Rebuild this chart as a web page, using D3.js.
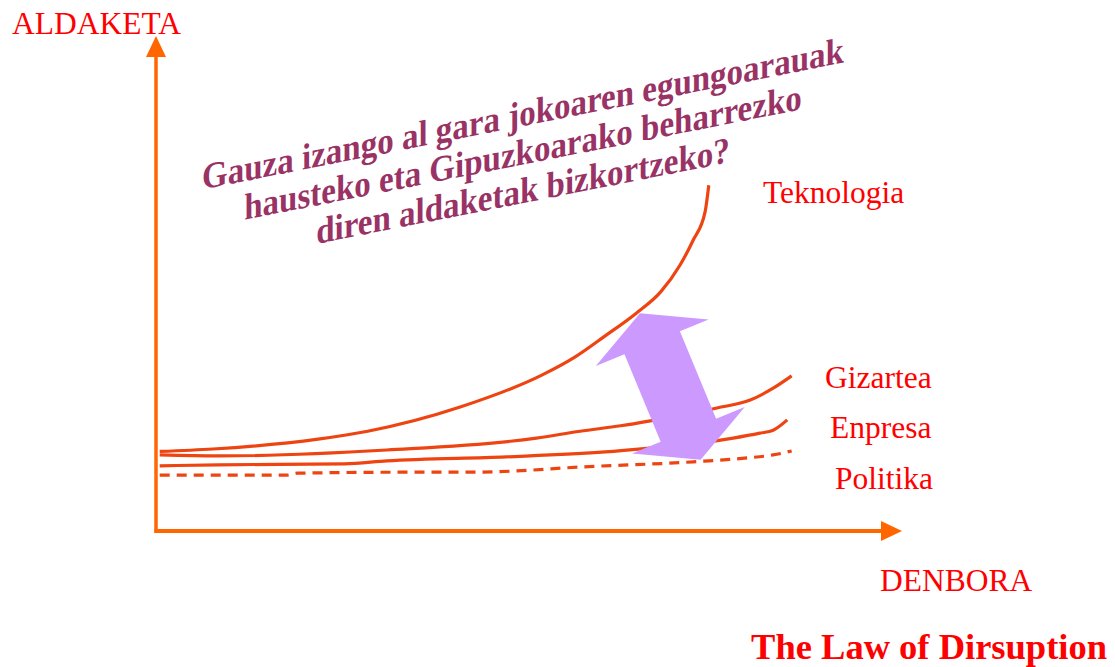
<!DOCTYPE html>
<html>
<head>
<meta charset="utf-8">
<script src="https://cdn.jsdelivr.net/npm/d3@7"></script>
<style>
  body { margin: 0; background: #fff; }
  text { font-family: "Liberation Serif", "Times New Roman", serif; }
</style>
</head>
<body>
<svg id="chart"></svg>
<script>
// series: [time, change] pairs (0-100 on both axes)
const teknologia = [[0.5,16.1],[7.7,16.6],[21.9,18.6],[28.6,20.2],[41.1,25.1],[52.2,31.6],[56.6,35.2],
  [60.7,39.5],[64.9,44.1],[68.2,48.4],[70.8,53.8],[72.6,58.9],[74.2,64.6],[74.7,70.0]];
const gizartea = [[0.5,15.4],[8.5,15.2],[31.2,16.4],[51.4,18.8],[57.3,20.2],[62.8,21.3],[66.8,22.3],
  [75.8,24.9],[80.3,26.5],[83.4,28.9],[85.9,31.4]];
const enpresa = [[0.5,13.2],[8.5,13.4],[25.5,13.6],[31.2,14.2],[47.3,15.0],[60.7,16.0],[66.8,16.8],
  [73.5,17.8],[78.0,18.8],[81.6,19.8],[83.4,20.4],[85.3,22.5]];
const politika = [[0.5,11.3],[17.7,11.3],[19.1,11.7],[33.9,11.9],[42.4,11.9],[50.5,12.3],[55.5,12.8],
  [72.6,14.0],[79.9,14.8],[83.4,15.4],[85.9,16.2]];

const seriesNames = ["Teknologia", "Gizartea", "Enpresa", "Politika"];
const axisLabels = ["ALDAKETA", "DENBORA"];
const question = ["Gauza izango al gara jokoaren egungoarauak",
  "hausteko eta Gipuzkoarako beharrezko",
  "diren aldaketak bizkortzeko?"];
const title = "The Law of Dirsuption";
// the gap arrow, from the Teknologia curve down to Politika
const gapArrow = [[65.4,44.1],[73.6,14.4]];

const width = 1115, height = 667;

const x = d3.scaleLinear().domain([0, 100]).range([156, 896]);
const y = d3.scaleLinear().domain([0, 100]).range([531, 37]);

const svg = d3.select("#chart")
  .attr("width", width)
  .attr("height", height);

const axisColor = "#FF6600";
const lineColor = "#EE4411";
const red = "#FF0000";

// axes (no ticks, just arrows)
svg.append("line")
  .attr("x1", x(0)).attr("x2", x(0))
  .attr("y1", y(0) + 2).attr("y2", y(100) + 18)
  .attr("stroke", axisColor).attr("stroke-width", 3.5);
svg.append("path")
  .attr("d", `M${x(0)},${y(100) - 1} L${x(0) - 10},${y(100) + 20} L${x(0) + 10},${y(100) + 20} Z`)
  .attr("fill", axisColor);

svg.append("line")
  .attr("x1", x(0) - 1.5).attr("x2", x(100) - 14)
  .attr("y1", y(0)).attr("y2", y(0))
  .attr("stroke", axisColor).attr("stroke-width", 4);
svg.append("path")
  .attr("d", `M${x(100) + 6},${y(0)} L${x(100) - 15},${y(0) - 10} L${x(100) - 15},${y(0) + 10} Z`)
  .attr("fill", axisColor);

// lines
const line = d3.line()
  .x(d => x(d[0]))
  .y(d => y(d[1]))
  .curve(d3.curveMonotoneX);

[teknologia, gizartea, enpresa].forEach(s => {
  svg.append("path")
    .datum(s)
    .attr("fill", "none")
    .attr("stroke", lineColor)
    .attr("stroke-width", 3.2)
    .attr("d", line);
});

svg.append("path")
  .datum(politika)
  .attr("fill", "none")
  .attr("stroke", lineColor)
  .attr("stroke-width", 3.2)
  .attr("stroke-dasharray", "10,7")
  .attr("d", line);

// purple double arrow between the curves
const p0 = [x(gapArrow[0][0]), y(gapArrow[0][1])];
const p1 = [x(gapArrow[1][0]), y(gapArrow[1][1])];
const len = Math.hypot(p1[0] - p0[0], p1[1] - p0[1]);
const ux = (p1[0] - p0[0]) / len, uy = (p1[1] - p0[1]) / len;
const nx = uy, ny = -ux;
const headLen = 32, headW = 61, shaftW = 30;
const pt = (a, b) => [p0[0] + ux * a + nx * b, p0[1] + uy * a + ny * b];
const arrowPts = [
  pt(0, 0), pt(headLen, headW), pt(headLen, shaftW),
  pt(len - headLen, shaftW), pt(len - headLen, headW), pt(len, 0),
  pt(len - headLen, -headW), pt(len - headLen, -shaftW),
  pt(headLen, -shaftW), pt(headLen, -headW)
];
svg.append("polygon")
  .attr("points", arrowPts.map(p => p.join(",")).join(" "))
  .attr("fill", "#CC99FF");

// labels
const labelPos = [[763, 203], [825, 388], [830, 438], [835, 489]];
seriesNames.forEach((n, i) => {
  svg.append("text")
    .attr("x", labelPos[i][0]).attr("y", labelPos[i][1])
    .attr("fill", red)
    .attr("font-size", 31.5)
    .text(n);
});

svg.append("text")
  .attr("x", 12).attr("y", 34)
  .attr("fill", red).attr("font-size", 31.5)
  .text(axisLabels[0]);
svg.append("text")
  .attr("x", 880).attr("y", 591)
  .attr("fill", red).attr("font-size", 31.5)
  .text(axisLabels[1]);

svg.append("text")
  .attr("x", 1107).attr("y", 659)
  .attr("text-anchor", "end")
  .attr("fill", red).attr("font-size", 36.5).attr("font-weight", "bold")
  .text(title);

// the slanted question (skewed like the WordArt, verticals stay upright)
const q = svg.append("g")
  .attr("transform", "translate(523,126) skewY(-11.2) scale(1,1.12)");
question.forEach((t, i) => {
  q.append("text")
    .attr("x", 0).attr("y", i * 34.4)
    .attr("text-anchor", "middle")
    .attr("fill", "#993366")
    .attr("font-size", 33)
    .attr("font-weight", "bold")
    .text(t);
});
</script>
</body>
</html>
